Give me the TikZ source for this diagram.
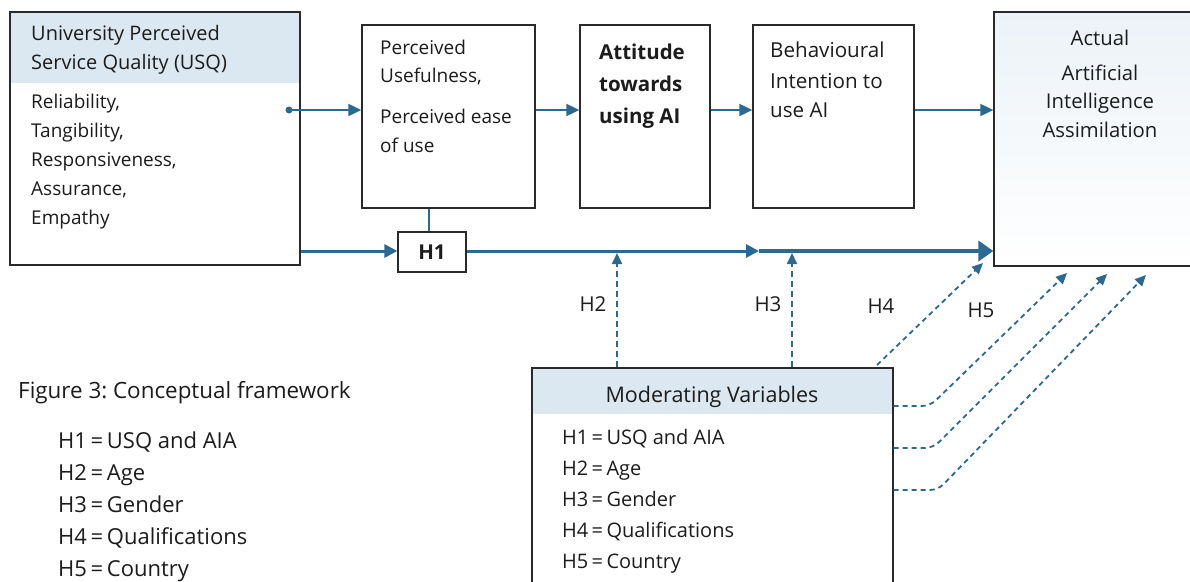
\documentclass[tikz,border=0pt]{standalone}
\usepackage{fontspec}
\setmainfont{Open Sans}
\usetikzlibrary{arrows.meta,calc}
\definecolor{arr}{HTML}{2C6990}
\definecolor{hdr}{HTML}{DCE8F1}
\definecolor{bord}{HTML}{2A2A2A}
\definecolor{ink}{HTML}{1C1C1C}
\frenchspacing
\tikzset{
  box/.style={draw=bord, line width=1.3pt, rectangle, inner sep=0pt},
  txt/.style={inner sep=0pt, anchor=base west, text=ink, font=\fontsize{19}{23}\selectfont},
  ctxt/.style={inner sep=0pt, anchor=base, text=ink, font=\fontsize{20.3}{24}\selectfont},
  btxt/.style={inner sep=0pt, anchor=base west, text=ink, font=\fontsize{20.5}{24}\selectfont\bfseries},
  lbl/.style={inner sep=0pt, anchor=base, text=ink, font=\fontsize{20.5}{24}\selectfont},
  conn/.style={draw=arr, line width=1.9pt, -{Triangle[length=13pt,width=12pt]}},
  connthick/.style={draw=arr, line width=3pt, -{Triangle[length=13pt,width=13pt]}},
  connbig/.style={draw=arr, line width=3.6pt, -{Triangle[length=15pt,width=20pt]}},
  dasharr/.style={draw=arr, line width=1.8pt, dash pattern=on 6pt off 4pt, -{Triangle[length=11pt,width=10pt]}},
  dotarr/.style={draw=arr, line width=1.8pt, dash pattern=on 5pt off 4pt, rounded corners=8pt, -{Triangle[length=11pt,width=10pt]}},
}
\begin{document}
\begin{tikzpicture}[x=1pt,y=-1pt]
\useasboundingbox (0,0) rectangle (1190,581);
\clip (0,0) rectangle (1190,581);
\fill[white] (0,0) rectangle (1190,581);

% ---- USQ box
\fill[hdr] (10,12) rectangle (300,83);
\node[box, minimum width=290pt, minimum height=253pt] (usq) at (155,138.5) {};
\node[txt, font=\fontsize{20}{24}\selectfont] (usqh1) at (31,40) {University Perceived};
\node[txt, font=\fontsize{20}{24}\selectfont] (usqh2) at (31,69) {Service Quality (USQ)};
\foreach \t [count=\i] in {{Reliability,},{Tangibility,},{Responsiveness,},{Assurance,},{Empathy}}
  \node[txt] (usqb\i) at (31,{108+29*(\i-1)}) {\t};

% ---- PU box
\node[box, minimum width=173pt, minimum height=183pt] (pu) at (448.5,116.5) {};
\node[txt] (pu1) at (380,54.5) {Perceived};
\node[txt] (pu2) at (380,82) {Usefulness,};
\node[txt] (pu3) at (380,123) {Perceived ease};
\node[txt] (pu4) at (380,152) {of use};

% ---- Attitude box
\node[box, minimum width=130pt, minimum height=183pt] (att) at (645,116.5) {};
\node[btxt] (att1) at (599,59) {Attitude};
\node[btxt] (att2) at (599,91) {towards};
\node[btxt] (att3) at (599,123) {using AI};

% ---- BI box
\node[box, minimum width=161pt, minimum height=183pt] (bi) at (833.5,116.5) {};
\node[txt, font=\fontsize{20.6}{24}\selectfont] (bi1) at (770,57) {Behavioural};
\node[txt, font=\fontsize{20.6}{24}\selectfont] (bi2) at (770,88) {Intention to};
\node[txt, font=\fontsize{20.6}{24}\selectfont] (bi3) at (770,117) {use AI};

% ---- Actual box
\node[box, top color=hdr!55, bottom color=white, minimum width=210pt, minimum height=254pt] (act) at (1099,139) {};
\node[ctxt] (act1) at (1100,45) {Actual};
\node[ctxt] (act2) at (1100,80) {Artificial};
\node[ctxt] (act3) at (1100,108) {Intelligence};
\node[ctxt] (act4) at (1100,137) {Assimilation};

% ---- H1 box
\node[box, fill=white, minimum width=68pt, minimum height=40pt, font=\fontsize{20.5}{24}\selectfont\bfseries, text=ink] (h1) at (432,252) {H1};

% ---- Moderating box
\fill[hdr] (532,368) rectangle (893,414);
\node[box, minimum width=361pt, minimum height=230pt] (mod) at (712.5,483) {};
\node[ctxt, font=\fontsize{21.5}{25}\selectfont] (modh) at (712,402) {Moderating Variables};
\foreach \t [count=\i] in {{H1\,=\,USQ and AIA},{H2\,=\,Age},{H3\,=\,Gender},{H4\,=\,Qualifications},{H5\,=\,Country}}
  \node[txt, font=\fontsize{20}{24}\selectfont] (modl\i) at (562,{444+31*(\i-1)}) {\t};

% ---- caption and legend
\node[txt, font=\fontsize{22.4}{26}\selectfont] (cap) at (18,398) {Figure 3: Conceptual framework};
\foreach \t [count=\i] in {{H1\,=\,USQ and AIA},{H2\,=\,Age},{H3\,=\,Gender},{H4\,=\,Qualifications},{H5\,=\,Country}}
  \node[txt, font=\fontsize{22}{26}\selectfont] (leg\i) at (58,{448+32.2*(\i-1)}) {\t};

% ---- top connectors
\coordinate (ry) at (0,110);
\coordinate (dot) at (289,110);
\fill[arr] (dot) circle (3.5pt);
\draw[conn] (dot) -- (pu.west |- ry);
\draw[conn] (pu.east |- ry) -- (att.west |- ry);
\draw[conn] (att.east |- ry) -- (bi.west |- ry);
\draw[conn] (bi.east |- ry) -- (act.west |- ry);

% ---- bottom connectors
\coordinate (by) at (0,251);
\coordinate (mid) at (759,251);
\draw[draw=arr, line width=1.2pt] (h1.north -| 429,0) -- (pu.south -| 429,0);
\draw[connthick] (usq.east |- by) -- (h1.west |- by);
\draw[connthick] (h1.east |- by) -- (mid);
\draw[connbig] (mid) -- (act.west |- by);

% ---- moderator connectors
\coordinate (c2) at (617,253);
\coordinate (c3) at (792,253);
\draw[dasharr] (c2 |- mod.north) -- (c2);
\draw[dasharr] (c3 |- mod.north) -- (c3);
\node[lbl] (lh2) at (593,311) {H2};
\node[lbl] (lh3) at (768,311) {H3};
\node[lbl] (lh4) at (881,313) {H4};
\node[lbl] (lh5) at (981,317) {H5};

\coordinate (s4) at (877,365);
\coordinate (t4) at (983,263);
\draw[dotarr] (s4) -- (t4);
\coordinate (t5a) at (1067,273);
\coordinate (t5b) at (1107,274);
\coordinate (t5c) at (1146,275);
\draw[dotarr] (mod.east |- 0,406) -- (930,406) -- (t5a);
\draw[dotarr] (mod.east |- 0,448) -- (933,448) -- (t5b);
\draw[dotarr] (mod.east |- 0,490) -- (938,490) -- (t5c);
\end{tikzpicture}
\end{document}
